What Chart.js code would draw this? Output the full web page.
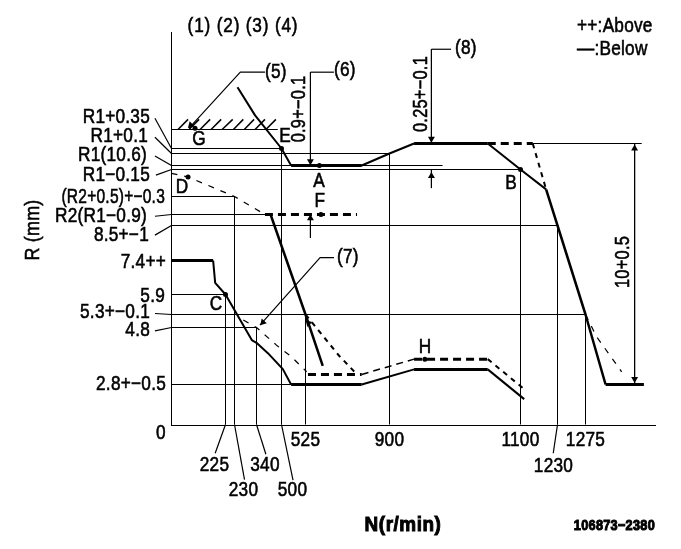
<!DOCTYPE html>
<html><head><meta charset="utf-8">
<style>html,body{margin:0;padding:0;background:#fff}canvas{display:block}</style>
<script src="https://cdn.jsdelivr.net/npm/chart.js@4"></script>
</head><body><canvas id="c" width="681" height="549"></canvas>
<script>
// ---- Axis values (the drawing's axes are schematic, not to scale)
const xTickValues=[0,225,230,340,500,525,900,1100,1230,1275,1500];
const yTickValues=[0,2.8,4.8,5.3,5.9,7.4,8.5,9.7,10.2,10.45,10.6,10.7,10.95,11,11.3,13.5];
const xTickPixels=[171.5,225.5,234.5,256.5,281.5,305.5,389.5,520.5,557.5,585.5,655];
const yTickPixels=[424.5,384.5,327.5,314.5,294.5,260.5,225.5,214.5,196.5,169.5,165.5,153.5,148.5,143.5,129.5,32.5];
const xAxisLabels=[225,230,340,500,525,900,1100,1230,1275];
const yAxisLabels=[[10.95,'R1+0.35'],[10.7,'R1+0.1'],[10.6,'R1(10.6)'],[10.45,'R1−0.15'],[10.2,'(R2+0.5)+−0.3'],[9.7,'R2(R1−0.9)'],[8.5,'8.5+−1'],[7.4,'7.4++'],[5.9,'5.9'],[5.3,'5.3+−0.1'],[4.8,'4.8'],[2.8,'2.8+−0.5']];

// ---- Curves [N, R]
const upperFall=[[245,12.26],[333,11.62],[500,10.95],[510,10.6]];
const upperFlat1=[[510,10.6],[776,10.6]];
const upperRise=[[776,10.6],[900,10.7],[937.5,11]];
const upperFlat2=[[937.5,11],[1050,11]];
const upperDrop=[[1050,11],[1100,10.45],[1190,10.266]];
const upperCut=[[1190,10.266],[1230,8.5],[1275,5.3],[1340,2.8]];
const endFlat=[[1340,2.8],[1464,2.8]];
const upperDash1=[[1050,11],[1143,11]];
const upperDash2=[[1143,11],[1190,10.266]];
const idleDash=[[0,10.414],[69,10.38],[230,10.2],[394,9.7]];
const r2Dash=[[394,9.7],[755,9.7]];
const r2Cut=[[430,9.7],[525,5.3],[602,3.456]];
const r2CutDash=[[525,5.3],[676,3.8],[755,3.154]];
const lowerDash1=[[536,3.154],[776,3.154]];
const lowerDash2=[[776,3.154],[937.5,3.69]];
const lowerDash3=[[937.5,3.69],[1050,3.69]];
const lowerDash4=[[1050,3.69],[1113,2.477]];
const startFlat=[[0,7.4],[173.5,7.4]];
const lowerFall=[[173.5,7.4],[182,6.413],[225,5.9],[316.5,4.36],[340,4.263],[413,3.9],[501.4,3.34],[510,2.8]];
const lowerFlat1=[[510,2.8],[776,2.8]];
const lowerRise=[[776,2.8],[937.5,3.33]];
const lowerFlat2=[[937.5,3.33],[1050,3.33]];
const lowerDrop=[[1050,3.33],[1113,1.775]];
const seven=[[274,5.085],[340,4.8],[468,4.18],[510.5,3.77],[530,3.246]];
const rightDash=[[1275,5.3],[1311,4.474],[1392,3.246]];

// ---- Reference lines
const refH=[[11.3,0,476],[10.95,0,500],[10.7,0,900],[10.6,0,981],[10.45,0,1100],[10.2,0,230],[9.7,0,394],[8.5,0,1230],[5.9,0,225],[5.3,0,1275],[4.8,0,340],[2.8,0,510],[11,1143,1457]];
const refV=[[225,5.9],[230,10.2],[340,4.8],[500,10.95],[525,5.3],[900,10.7],[1100,10.45],[1230,8.5],[1275,5.3]];
const dims=[[[547,12.6],[547,10.6]],[[547,9.7],[547,8.11]],[[964,13.12],[964,11]],[[964,10.45],[964,10.278]],[[1434,11],[1434,2.8]]];
const leaders=[[[547,12.6],[652,12.6]],[[964,13.12],[994,13.12]],[[394,12.6],[259,12.6],[73,11.33]],[[652,7.49],[590,7.49],[362,4.89]],
 [[225,0],[182,-2.01]],[[230,0],[280,-3.86]],[[340,0],[400,-2.08]],[[500,0],[512,-3.9]],[[1230,0],[1215,-2.01]],
 [[-69,11.556],[0,10.95]],[[-69,11.135],[0,10.7]],[[-69,10.68],[0,10.6]],[[-65,10.398],[0,10.45]],[[-69,9.507],[0,9.7]],[[-69,8.197],[0,8.5]],[[-69,5.33],[0,5.3]],[[-69,4.684],[0,4.8]]];
const hatchBase=[27,73,119,165,211,229.4,279,333,400];
const hatchTop=[69,115,161,207,229,274,328,394,464];
const hatchLow=11.3, hatchHigh=11.53;

// ---- Points
const dotN=[98,500,587,594,69,225,954,1100];
const dotR=[11.33,10.95,10.6,9.7,10.38,5.9,3.69,10.45];
const arrowN=[547,547,964,964,1434,1434,80,381,538];
const arrowR=[10.635,9.29,11.1,10.39,10.95,2.99,11.4,5.0,4.97];
const arrowAngle=[180,0,180,0,0,180,225,222,315];

// ---- Schematic scale: piecewise-linear between the labelled values
function interp(v,vals,pix){
  let i=0; while(i<vals.length-2 && v>vals[i+1]) i++;
  return pix[i]+(v-vals[i])*(pix[i+1]-pix[i])/(vals[i+1]-vals[i]);
}
class SchematicScale extends Chart.LinearScale{
  static id='schematic';
  static defaults=Chart.LinearScale.defaults;
  getPixelForValue(v){
    return this.axis==='x'?interp(v,xTickValues,xTickPixels):interp(v,yTickValues,yTickPixels);
  }
  getValueForPixel(p){
    return this.axis==='x'?interp(p,xTickPixels,xTickValues):interp(p,yTickPixels,yTickValues);
  }
}
Chart.register(SchematicScale);

const toXY=a=>a.map(p=>({x:p[0],y:p[1]}));
function line(pts,w,dash){return {data:toXY(pts),showLine:true,borderColor:'#000',backgroundColor:'#000',borderWidth:w,borderDash:dash||[],pointRadius:0,clip:false,tension:0,borderCapStyle:'butt',borderJoinStyle:'round'};}
const TH=3,MD=2,TN=1;
const datasets=[];
refH.forEach(r=>datasets.push(line([[r[1],r[0]],[r[2],r[0]]],TN)));
refV.forEach(r=>datasets.push(line([[r[0],0],[r[0],r[1]]],TN)));
dims.forEach(d=>datasets.push(line(d,TN)));
leaders.forEach(d=>datasets.push(line(d,1.2)));
hatchBase.forEach((b,i)=>datasets.push(line([[b,hatchLow],[hatchTop[i],hatchHigh]],1.5)));
[upperFlat1,upperFlat2,endFlat,startFlat,lowerFlat1,lowerFlat2].forEach(a=>datasets.push(line(a,TH)));
[upperFall,upperRise,upperDrop,lowerFall,lowerRise,lowerDrop].forEach(a=>datasets.push(line(a,MD)));
[upperCut,r2Cut].forEach(a=>datasets.push(line(a,2.5)));
[upperDash1,r2Dash,lowerDash1,lowerDash3].forEach(a=>datasets.push(line(a,TH,[8,5])));
[upperDash2,lowerDash4,r2CutDash].forEach(a=>datasets.push(line(a,MD,[5,5])));
[idleDash,seven,rightDash].forEach(a=>datasets.push(line(a,1.2,[6,7])));
datasets.push(line(lowerDash2,1.5,[7,5]));
datasets.push({data:dotN.map((n,i)=>({x:n,y:dotR[i]})),showLine:false,pointRadius:2.5,pointBackgroundColor:'#000',pointBorderWidth:0,clip:false});
datasets.push({data:arrowN.map((n,i)=>({x:n,y:arrowR[i]})),showLine:false,pointStyle:'triangle',pointRadius:4,pointRotation:arrowAngle,pointBackgroundColor:'#000',pointBorderWidth:0,clip:false});

// ---- Text
const FONT='"Liberation Sans"';
function put(ctx,t,x,y,o){
  o=o||{};
  ctx.save();
  ctx.translate(x,y);
  if(o.rot) ctx.rotate(o.rot);
  const sx=o.sx||0.82; ctx.scale(sx,1);
  ctx.font=(o.weight||'normal')+' '+(o.size||21)+'px '+FONT;
  ctx.letterSpacing=(o.ls===undefined?0.3:o.ls)+'px';
  ctx.textAlign=o.align||'center'; ctx.textBaseline='middle';
  ctx.fillStyle='#000'; ctx.strokeStyle='#000'; ctx.lineWidth=o.sw===undefined?0.6:o.sw;
  ctx.fillText(t,0,0);
  if(ctx.lineWidth>0) ctx.strokeText(t,0,0);
  ctx.restore();
}
const xLabelShift={225:[-11,41],230:[9,66],340:[8.5,41],500:[11,66],525:[0,16],900:[0,16],1100:[0,16],1230:[-4,42],1275:[0,16]};
const yLabelPos={10.95:[150,-31],10.7:[148,-17],10.6:[147,-10],10.45:[150,6],10.2:[165,1],9.7:[147,2],8.5:[149,10],7.4:[166,2],5.9:[165,2],5.3:[150,-2],4.8:[150,3],2.8:[166,0]};
const letters=[['G',199,139],['E',285,136],['A',319,181],['F',320,201],['D',182,187],['C',216,304],['B',511,183],['H',425,347]];
const callouts=[['(5)',265,72],['(6)',334,70],['(7)',337,257],['(8)',455,48]];
const textPlugin={id:'text',afterDatasetsDraw(chart){
  const c=chart.ctx,xs=chart.scales.x,ys=chart.scales.y;
  xAxisLabels.forEach(v=>{const s=xLabelShift[v];put(c,String(v),xs.getPixelForValue(v)+s[0],424.5+s[1]);});
  yAxisLabels.forEach(l=>{const s=yLabelPos[l[0]];put(c,l[1],s[0],ys.getPixelForValue(l[0])+s[1],{align:'right',sx:l[0]===10.2?0.74:0.82});});
  put(c,'0',161,433);
  letters.forEach(l=>put(c,l[0],l[1],l[2]));
  callouts.forEach(l=>put(c,l[0],l[1],l[2],{align:'left'}));
  put(c,'(1) (2) (3) (4)',243,26,{ls:1});
  put(c,'++:Above',577,26,{align:'left'});
  put(c,'—:Below',577,49,{align:'left'});
  put(c,'0.9+−0.1',299,109,{rot:-Math.PI/2,size:20});
  put(c,'0.25+−0.1',421,94,{rot:-Math.PI/2,size:20});
  put(c,'10+0.5',623,262,{rot:-Math.PI/2,size:20});
  put(c,'R (mm)',33,230,{rot:-Math.PI/2,sx:0.85});
  put(c,'N(r/min)',403,525,{weight:'bold',size:21,sx:0.9,sw:0,ls:0.6});
  put(c,'106873−2380',655,526,{align:'right',size:15,sx:0.85,weight:'bold',sw:0});
}};

new Chart(document.getElementById('c'),{
  type:'scatter',
  data:{datasets},
  options:{
    responsive:false,animation:false,
    devicePixelRatio:1,
    layout:{padding:{left:171,right:26,top:32,bottom:124}},
    plugins:{legend:{display:false},tooltip:{enabled:false}},
    scales:{
      x:{type:'schematic',position:'bottom',min:0,max:1500,grid:{display:false,drawTicks:false},ticks:{display:false},border:{display:true,color:'#000',width:1}},
      y:{type:'schematic',position:'left',min:0,max:13.5,grid:{display:false,drawTicks:false},ticks:{display:false},border:{display:true,color:'#000',width:1}}
    }
  },
  plugins:[textPlugin]
});
</script></body></html>
